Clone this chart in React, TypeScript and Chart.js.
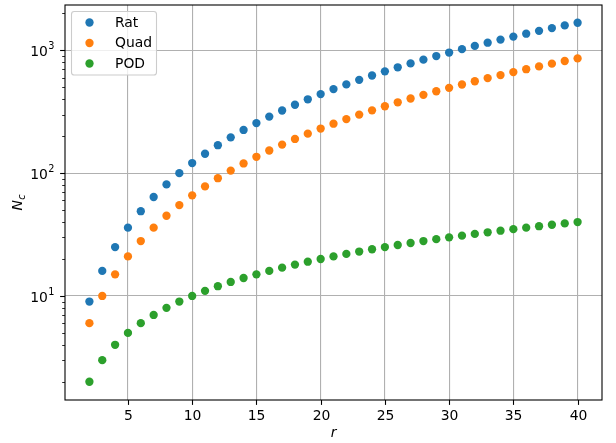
import React, { useEffect, useRef } from "react";
import { Chart, registerables } from "chart.js";

Chart.register(...registerables);

const rValues = [2, 3, 4, 5, 6, 7, 8, 9, 10, 11, 12, 13, 14, 15, 16, 17, 18, 19, 20, 21, 22, 23, 24, 25, 26, 27, 28, 29, 30, 31, 32, 33, 34, 35, 36, 37, 38, 39, 40];
const ratValues = [9, 16, 25, 36, 49, 64, 81, 100, 121, 144, 169, 196, 225, 256, 289, 324, 361, 400, 441, 484, 529, 576, 625, 676, 729, 784, 841, 900, 961, 1024, 1089, 1156, 1225, 1296, 1369, 1444, 1521, 1600, 1681];
const quadValues = [6, 10, 15, 21, 28, 36, 45, 55, 66, 78, 91, 105, 120, 136, 153, 171, 190, 210, 231, 253, 276, 300, 325, 351, 378, 406, 435, 465, 496, 528, 561, 595, 630, 666, 703, 741, 780, 820, 861];
const podValues = [2, 3, 4, 5, 6, 7, 8, 9, 10, 11, 12, 13, 14, 15, 16, 17, 18, 19, 20, 21, 22, 23, 24, 25, 26, 27, 28, 29, 30, 31, 32, 33, 34, 35, 36, 37, 38, 39, 40];

const seriesNames = ["Rat", "Quad", "POD"];
const seriesColors = ["#1f77b4", "#ff7f0e", "#2ca02c"];

const xTickValues = [5, 10, 15, 20, 25, 30, 35, 40];
const yMajorExponents = [1, 2, 3];

const FONT = "DejaVu Sans";
const FS = 13.9;

const overlayPlugin = {
  id: "overlay",
  afterDraw(chart: any) {
    const { ctx, chartArea: a, scales } = chart;
    const x = scales.x;
    const y = scales.y;
    ctx.save();
    // frame
    ctx.strokeStyle = "#000";
    ctx.lineWidth = 1.1;
    ctx.strokeRect(a.left, a.top, a.right - a.left, a.bottom - a.top);

    // x ticks
    ctx.fillStyle = "#000";
    ctx.font = `${FS}px "${FONT}"`;
    ctx.textAlign = "center";
    ctx.textBaseline = "alphabetic";
    for (const v of xTickValues) {
      const px = Math.round(x.getPixelForValue(v)) + 0.5;
      ctx.beginPath();
      ctx.moveTo(px, a.bottom);
      ctx.lineTo(px, a.bottom + 4.9);
      ctx.lineWidth = 1.1;
      ctx.stroke();
      ctx.fillText(String(v), px, a.bottom + 20.3);
    }

    // y minor ticks
    ctx.lineWidth = 0.83;
    for (let d = 0; d <= 3; d++) {
      for (let m = 2; m <= 9; m++) {
        const v = m * Math.pow(10, d);
        if (v < y.min || v > y.max) continue;
        const py = Math.round(y.getPixelForValue(v)) + 0.5;
        ctx.beginPath();
        ctx.moveTo(a.left - 2.8, py);
        ctx.lineTo(a.left, py);
        ctx.stroke();
      }
    }
    // y major ticks + labels
    for (const e of yMajorExponents) {
      const py = Math.round(y.getPixelForValue(Math.pow(10, e))) + 0.5;
      ctx.lineWidth = 1.1;
      ctx.beginPath();
      ctx.moveTo(a.left - 4.9, py);
      ctx.lineTo(a.left, py);
      ctx.stroke();
      const supFont = `${FS * 0.7}px "${FONT}"`;
      const baseFont = `${FS}px "${FONT}"`;
      ctx.font = supFont;
      const supW = ctx.measureText(String(e)).width;
      ctx.font = baseFont;
      const baseW = ctx.measureText("10").width;
      const right = a.left - 10.5;
      ctx.textAlign = "left";
      ctx.fillText("10", right - supW - baseW - 0.5, py + 5.5);
      ctx.font = supFont;
      ctx.fillText(String(e), right - supW, py - 1.5);
    }

    // x title
    ctx.font = `italic ${FS}px "${FONT}"`;
    ctx.textAlign = "center";
    ctx.fillText("r", (a.left + a.right) / 2, 436.5);

    // y title (rotated)
    ctx.save();
    ctx.translate(22, (a.top + a.bottom) / 2);
    ctx.rotate(-Math.PI / 2);
    ctx.font = `italic ${FS}px "${FONT}"`;
    const nW = ctx.measureText("N").width;
    ctx.font = `italic ${FS * 0.7}px "${FONT}"`;
    const cW = ctx.measureText("c").width;
    const total = nW + cW + 0.5;
    ctx.textAlign = "left";
    ctx.font = `italic ${FS}px "${FONT}"`;
    ctx.fillText("N", -total / 2, 0);
    ctx.font = `italic ${FS * 0.7}px "${FONT}"`;
    ctx.fillText("c", -total / 2 + nW + 0.5, 2.8);
    ctx.restore();

    // legend
    const lx = 71.5, ly = 11.5, lw = 85, lh = 63.5, rr = 2.8;
    ctx.beginPath();
    ctx.moveTo(lx + rr, ly);
    ctx.lineTo(lx + lw - rr, ly);
    ctx.quadraticCurveTo(lx + lw, ly, lx + lw, ly + rr);
    ctx.lineTo(lx + lw, ly + lh - rr);
    ctx.quadraticCurveTo(lx + lw, ly + lh, lx + lw - rr, ly + lh);
    ctx.lineTo(lx + rr, ly + lh);
    ctx.quadraticCurveTo(lx, ly + lh, lx, ly + lh - rr);
    ctx.lineTo(lx, ly + rr);
    ctx.quadraticCurveTo(lx, ly, lx + rr, ly);
    ctx.closePath();
    ctx.fillStyle = "rgba(255,255,255,0.8)";
    ctx.fill();
    ctx.strokeStyle = "#cccccc";
    ctx.lineWidth = 1.1;
    ctx.stroke();
    ctx.font = `${FS}px "${FONT}"`;
    ctx.textAlign = "left";
    ctx.textBaseline = "middle";
    seriesNames.forEach((name, i) => {
      const cy = 22.5 + i * 20.5;
      ctx.fillStyle = seriesColors[i];
      ctx.beginPath();
      ctx.arc(89.5, cy, 4.15, 0, Math.PI * 2);
      ctx.fill();
      ctx.fillStyle = "#000";
      ctx.fillText(name, 115, cy + 0.5);
    });
    ctx.restore();
  },
};

export default function App() {
  const ref = useRef<HTMLCanvasElement | null>(null);
  useEffect(() => {
    if (!ref.current) return;
    const allSeries = [ratValues, quadValues, podValues];
    const chart = new Chart(ref.current, {
      type: "scatter",
      data: {
        datasets: allSeries.map((vals, i) => ({
          label: seriesNames[i],
          data: rValues.map((r, j) => ({ x: r, y: vals[j] })),
          backgroundColor: seriesColors[i],
          borderWidth: 0,
          pointRadius: 4.15,
          pointHoverRadius: 4.15,
        })),
      },
      options: {
        animation: false,
        responsive: false,
        events: [],
        layout: { padding: { left: 0, top: 5, right: 14, bottom: 0 } },
        plugins: { legend: { display: false }, tooltip: { enabled: false } },
        scales: {
          x: {
            type: "linear",
            min: 0.1,
            max: 41.9,
            afterBuildTicks: (s: any) => {
              s.ticks = xTickValues.map((v) => ({ value: v }));
            },
            afterFit: (s: any) => {
              s.height = 43;
            },
            ticks: { display: false },
            border: { display: false },
            grid: { color: "#b0b0b0", lineWidth: 1.1, drawTicks: false },
          },
          y: {
            type: "logarithmic",
            min: 1.42,
            max: 2345,
            afterBuildTicks: (s: any) => {
              s.ticks = yMajorExponents.map((e) => ({ value: Math.pow(10, e) }));
            },
            afterFit: (s: any) => {
              s.width = 65;
            },
            ticks: { display: false },
            border: { display: false },
            grid: { color: "#b0b0b0", lineWidth: 1.1, drawTicks: false },
          },
        },
      },
      plugins: [overlayPlugin],
    });
    return () => chart.destroy();
  }, []);
  return (
    <div style={{ position: "absolute", left: 0, top: 0, width: 616, height: 443, background: "#fff" }}>
      <canvas ref={ref} width={616} height={443} />
    </div>
  );
}
